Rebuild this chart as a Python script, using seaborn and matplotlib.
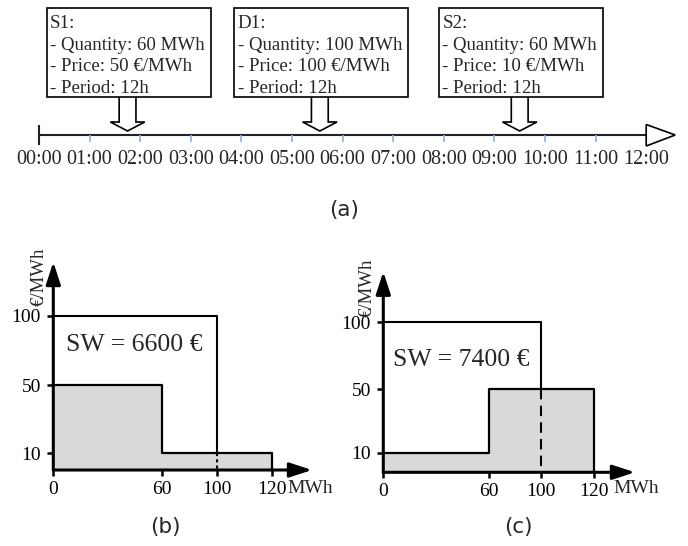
import numpy as np
import matplotlib
matplotlib.use("Agg")
import matplotlib.pyplot as plt
from matplotlib.patches import Polygon, Rectangle
import seaborn as sns

# ---------------- data ----------------
hour_labels = ["00:00", "01:00", "02:00", "03:00", "04:00", "05:00", "06:00",
               "07:00", "08:00", "09:00", "10:00", "11:00", "12:00"]
bid_names = ["S1", "D1", "S2"]
bid_quantity = [60, 100, 60]          # MWh
bid_price = [50, 100, 10]             # EUR/MWh
bid_period = ["12h", "12h", "12h"]
bid_arrival = [1.75, 5.55, 9.5]       # hour at which bid is submitted

supply_price_b = [50, 10]             # order of arrival
supply_qty_b = [60, 60]
supply_price_c = [10, 50]             # merit order
supply_qty_c = [60, 60]
demand_qty = 100
demand_price = 100
price_ticks = [10, 50, 100]
qty_ticks = [0, 60, 100, 120]

# ---------------- style ----------------
sns.set_theme(style="white")
plt.rcParams["font.family"] = ["Liberation Serif", "DejaVu Serif"]
SERIF = ["Liberation Serif", "DejaVu Serif"]
SANS = ["DejaVu Sans"]
W, H = 688, 546
fig = plt.figure(figsize=(W / 100, H / 100), dpi=100)

# ---------------- (a) timeline ----------------
px0, pxh = 39.0, 50.6
axA = fig.add_axes([0, (H - 230) / H, 1, 230 / H])
axA.set_xlim(-px0 / pxh, (W - px0) / pxh)
axA.set_ylim(230, 0)
axA.axis("off")

hours = np.arange(len(hour_labels))
tip = hours[-1] + 29 / pxh
axA.plot([0, tip], [135, 135], color="#222222", lw=1.5, solid_capstyle="butt", zorder=2)
axA.vlines(0, 125, 145, color="#222222", lw=1.5, zorder=2)
axA.vlines(hours[1:-1], 135.5, 142, color="#8fb0dc", lw=1.2, zorder=2)
axA.add_patch(Polygon([(hours[-1], 124.5), (hours[-1], 146), (tip, 135)], closed=True,
                      fc="white", ec="black", lw=1.2, zorder=3))
for h, lab in zip(hours, hour_labels):
    axA.text(h, 160, lab, ha="center", va="center", family=SERIF, size=14.6)

hs, hh = 8.4 / pxh, 17.2 / pxh
box_texts = []
for name, q, p, per, a in zip(bid_names, bid_quantity, bid_price, bid_period, bid_arrival):
    txt = f"{name}:\n- Quantity: {q} MWh\n- Price: {p} €/MWh\n- Period: {per}"
    t = axA.text(a, 14.7, txt, ha="center", va="top", multialignment="left",
                 family=SERIF, size=13.6, linespacing=1.37, zorder=5)
    box_texts.append(t)
    pts = [(a - hs, 97), (a - hs, 122), (a - hh, 122), (a, 131),
           (a + hh, 122), (a + hs, 122), (a + hs, 97)]
    axA.add_patch(Polygon(pts, closed=False, fc="white", ec="black", lw=1.2, zorder=3))

fig.canvas.draw()
renderer = fig.canvas.get_renderer()
inv = axA.transData.inverted()
for t in box_texts:
    bb = t.get_window_extent(renderer)
    (x0, _), (x1, _) = inv.transform([[bb.x0 - 3.5, 0], [bb.x1 + 6, 0]])
    axA.add_patch(Rectangle((x0, 8), x1 - x0, 89, fc="white", ec="black", lw=1.2, zorder=4))

fig.text(344 / W, 1 - 210 / H, "(a)", ha="center", va="center", family=SANS, size=15.5)


# ---------------- (b), (c) market panels ----------------
def piecewise(knots_d, knots_p):
    kd = np.asarray(knots_d, float)
    kp = np.asarray(knots_p, float)
    s0 = (kp[1] - kp[0]) / (kd[1] - kd[0])
    s1 = (kp[-1] - kp[-2]) / (kd[-1] - kd[-2])
    kd = np.concatenate([[kd[0] - 1000], kd, [kd[-1] + 1000]])
    kp = np.concatenate([[kp[0] - 1000 * s0], kp, [kp[-1] + 1000 * s1]])

    def fwd(v):
        return np.interp(np.asarray(v, float), kd, kp)

    def inv_(v):
        return np.interp(np.asarray(v, float), kp, kd)
    return fwd, inv_


def market_panel(origin, ext, xk, yk, prices, qtys, dash, sw_pos, unit_pos, label_pos):
    ox, oy = origin
    ex, ey = ext
    ax = fig.add_axes([ox / W, (H - oy) / H, ex / W, ey / H])
    fx, ix = piecewise(qty_ticks, xk)
    fy, iy = piecewise([0] + price_ticks, yk)
    ax.set_xscale("function", functions=(fx, ix))
    ax.set_yscale("function", functions=(fy, iy))
    ax.set_xlim(0, float(ix(ex)))
    ax.set_ylim(0, float(iy(ey)))
    for s in ax.spines.values():
        s.set_visible(False)
    ax.set_facecolor("none")

    edges = np.concatenate([[0], np.cumsum(qtys)])
    ys = list(prices) + [prices[-1]]
    ax.fill_between(edges, ys, step="post", color="#d9d9d9", lw=0, zorder=1)
    sx = list(edges) + [edges[-1]]
    sy = ys + [0]
    sns.lineplot(x=sx, y=sy, ax=ax, drawstyle="steps-post", estimator=None, sort=False,
                 color="black", lw=1.6, zorder=3)

    # supply price at the demand quantity
    idx = np.searchsorted(edges, demand_qty, side="right") - 1
    p_at = prices[min(idx, len(prices) - 1)]
    sns.lineplot(x=[0, demand_qty, demand_qty], y=[demand_price, demand_price, p_at],
                 ax=ax, estimator=None, sort=False, color="black", lw=1.5, zorder=3)
    ax.plot([demand_qty, demand_qty], [p_at, 0], color="black", lw=1.5,
            linestyle=dash, zorder=3)

    arrow = dict(arrowstyle="-|>,head_length=13.5,head_width=4.4", color="black",
                 lw=2.2, mutation_scale=1, shrinkA=0, shrinkB=0)
    ax.annotate("", xy=(1, 0), xytext=(0, 0), xycoords="axes fraction", arrowprops=arrow,
                zorder=5)
    ax.annotate("", xy=(0, 1), xytext=(0, 0), xycoords="axes fraction", arrowprops=arrow,
                zorder=5)

    ax.set_xticks(qty_ticks)
    ax.set_xticklabels([str(v) for v in qty_ticks])
    ax.set_yticks(price_ticks)
    ax.set_yticklabels([str(v) for v in price_ticks])
    ax.tick_params(axis="both", which="both", direction="out", color="black",
                   labelsize=14, labelcolor="black")
    ax.tick_params(axis="x", length=4, width=1.8, pad=4, bottom=True)
    ax.tick_params(axis="y", length=4.5, width=1.8, pad=4.5, left=True)
    ax.minorticks_off()
    for t in ax.get_xticklabels() + ax.get_yticklabels():
        t.set_family(SERIF)

    sw = demand_qty * demand_price - sum(
        min(q, max(0, demand_qty - e)) * p for q, p, e in zip(qtys, prices, edges[:-1]))
    ax.text(sw_pos[0], sw_pos[1], f"SW = {sw:.0f} €", transform=ax.transAxes,
            ha="center", va="center", family=SERIF, size=18.5)
    ax.text(unit_pos[0], unit_pos[1], "MWh", transform=ax.transAxes, ha="left",
            va="center", family=SERIF, size=14)
    ax.text(label_pos[0], label_pos[1], "€/MWh", transform=ax.transAxes, rotation=90,
            ha="center", va="center", family=SERIF, size=13.5)
    return ax


market_panel((53.3, 470), (258.7, 208), [0, 109, 164, 218.4], [0, 16.7, 85, 154.3],
             supply_price_b, supply_qty_b, (0, (1.5, 1.5)),
             (0.312, 0.601), (0.905, -0.091), (-0.054, 0.928))
market_panel((383.3, 472.3), (251.7, 200.6), [0, 105.4, 157.4, 210.7], [0, 19.6, 83, 150],
             supply_price_c, supply_qty_c, (0, (5, 3)),
             (0.311, 0.56), (0.913, -0.083), (-0.064, 0.922))

fig.text(165 / W, 1 - 527 / H, "(b)", ha="center", va="center", family=SANS, size=15.5)
fig.text(518 / W, 1 - 527 / H, "(c)", ha="center", va="center", family=SANS, size=15.5)

fig.savefig("out.png", dpi=100)
